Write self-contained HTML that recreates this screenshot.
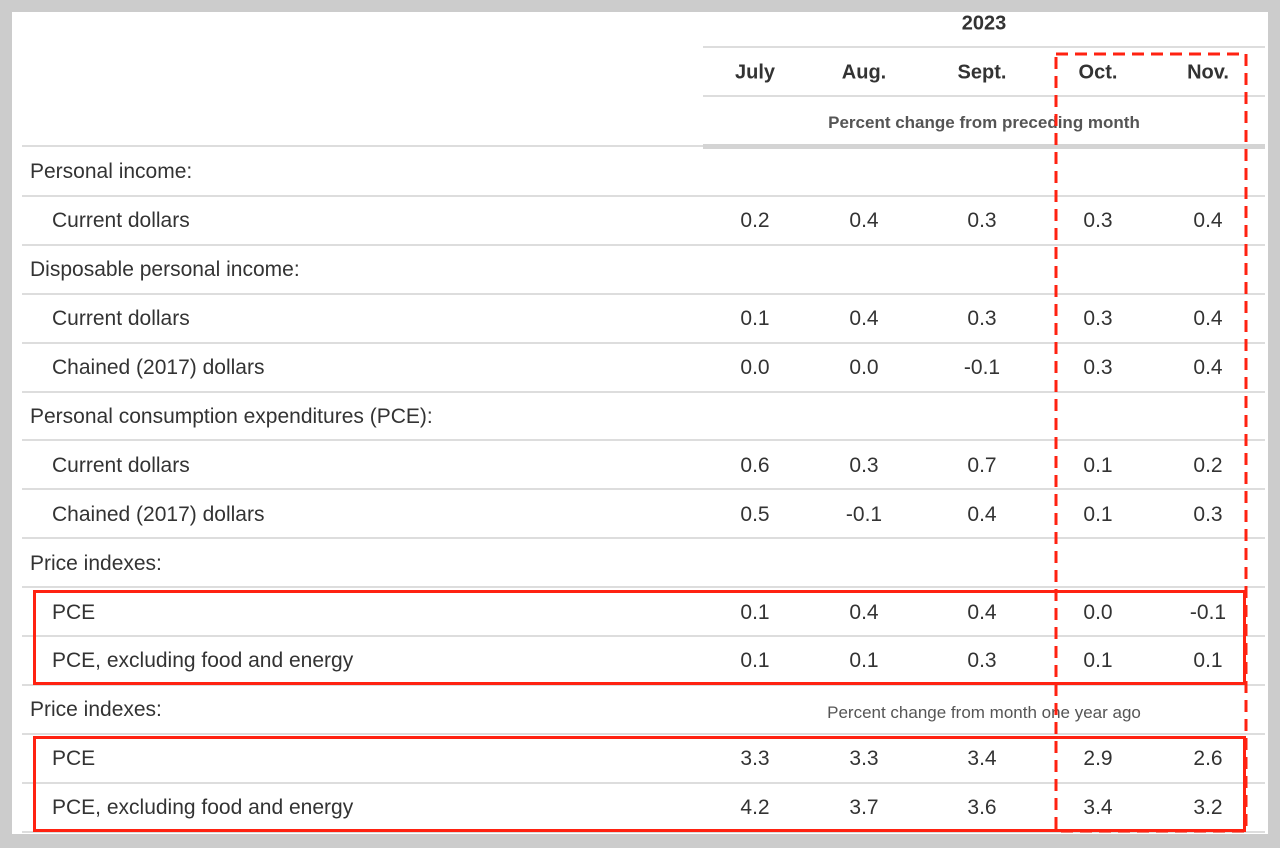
<!DOCTYPE html>
<html><head><meta charset="utf-8"><style>
body{margin:0;width:1280px;height:848px;background:#ccc;position:relative;overflow:hidden;font-family:"Liberation Sans",sans-serif;color:#333}
#panel{position:absolute;left:12px;top:12px;width:1256px;height:822px;background:#fff}
.ln{position:absolute;height:2px;background:#ddd}
.t{position:absolute;white-space:nowrap;transform:translate(-50%,-50%);}
.lab{position:absolute;white-space:nowrap;transform:translateY(-50%);font-size:21px}
.v{font-size:21px}
.h{font-size:20px;font-weight:bold}
.box{position:absolute;border:3px solid #f21;box-sizing:border-box}
</style></head><body>
<div id="panel"></div>
<div id="root"></div>
<div class="box" style="left:33px;top:590px;width:1213px;height:95px"></div>
<div class="box" style="left:33px;top:736px;width:1213px;height:96px"></div>
<svg style="position:absolute;left:0;top:0" width="1280" height="848">
<rect x="1056" y="54" width="190" height="777" fill="none" stroke="#f21" stroke-width="3" stroke-dasharray="12,7"/>
</svg>
<script>
const months=["July","Aug.","Sept.","Oct.","Nov."];
const colX=[755,864,982,1098,1208];
const rowLabels=["Personal income:","Current dollars","Disposable personal income:","Current dollars","Chained (2017) dollars","Personal consumption expenditures (PCE):","Current dollars","Chained (2017) dollars","Price indexes:","PCE","PCE, excluding food and energy","Price indexes:","PCE","PCE, excluding food and energy"];
const indent=[0,1,0,1,1,0,1,1,0,1,1,0,1,1];
const values=[null,["0.2","0.4","0.3","0.3","0.4"],null,["0.1","0.4","0.3","0.3","0.4"],["0.0","0.0","-0.1","0.3","0.4"],null,["0.6","0.3","0.7","0.1","0.2"],["0.5","-0.1","0.4","0.1","0.3"],null,["0.1","0.4","0.4","0.0","-0.1"],["0.1","0.1","0.3","0.1","0.1"],null,["3.3","3.3","3.4","2.9","2.6"],["4.2","3.7","3.6","3.4","3.2"]];
const root=document.getElementById('root');
function mk(cls,txt,x,y,st){const d=document.createElement('div');d.className=cls;d.textContent=txt;d.style.left=x+'px';d.style.top=y+'px';if(st)d.style.cssText+=st;root.appendChild(d);return d;}
function line(x,y,w,h,c){const d=document.createElement('div');d.className='ln';d.style.cssText+=`left:${x}px;top:${y}px;width:${w}px;height:${h||2}px;`+(c?`background:${c}`:'');root.appendChild(d);return d;}
let e;
e=mk('t h','2023',984,24);


line(703,46,562);line(703,95,562);line(703,144,562,5,'#d4d4d4');line(22,145,681);
months.forEach((m,i)=>{const d=mk('t h',m,colX[i],73);

});
e=mk('t','Percent change from preceding month',984,123,'font-size:17px;font-weight:bold;color:#555');


const top0=146,rh=48.9;
rowLabels.forEach((l,r)=>{const y=top0+rh*r+rh/2+2;
const d=mk('lab',l,indent[r]?52:30,y);


line(22,Math.round(top0+rh*(r+1)),1243);
if(values[r])values[r].forEach((v,i)=>{const c=mk('t v',v,colX[i],y);

});});
e=mk('t','Percent change from month one year ago',984,713,'font-size:17px;color:#555');


</script>
</body></html>
